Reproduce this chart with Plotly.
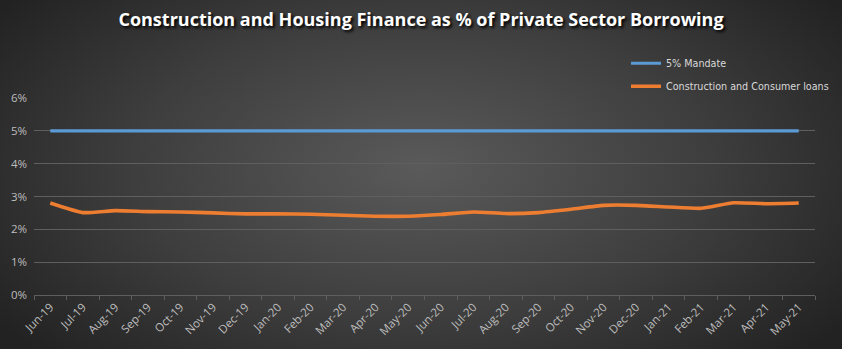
import base64
import plotly.graph_objects as go

# Monthly observations
months = ["Jun-19", "Jul-19", "Aug-19", "Sep-19", "Oct-19", "Nov-19", "Dec-19",
          "Jan-20", "Feb-20", "Mar-20", "Apr-20", "May-20", "Jun-20", "Jul-20",
          "Aug-20", "Sep-20", "Oct-20", "Nov-20", "Dec-20", "Jan-21", "Feb-21",
          "Mar-21", "Apr-21", "May-21"]
mandate = [0.05] * len(months)
construction_consumer = [0.0280, 0.0251, 0.0257, 0.0254, 0.0253, 0.0250, 0.0247,
                         0.0247, 0.0246, 0.0243, 0.0240, 0.0240, 0.0245, 0.0253,
                         0.0248, 0.0251, 0.0261, 0.0273, 0.0273, 0.0268, 0.0264,
                         0.0281, 0.0278, 0.0280]
y_ticks = [0, 0.01, 0.02, 0.03, 0.04, 0.05, 0.06]

W, H = 842, 349
L, R, T, B = 34, 27, 98, 54
pw, ph = W - L - R, H - T - B

# Dark radial-gradient backdrop as an inline SVG
svg = f"""<svg xmlns='http://www.w3.org/2000/svg' width='{W}' height='{H}' viewBox='0 0 {W} {H}' preserveAspectRatio='none'>
<defs><radialGradient id='g' cx='50%' cy='48%' r='62%' gradientTransform='translate(0.5,0.48) scale(1,1.25) translate(-0.5,-0.48)'>
<stop offset='0' stop-color='#5a5a5a'/><stop offset='0.55' stop-color='#3e3e3e'/><stop offset='1' stop-color='#222222'/>
</radialGradient></defs><rect width='100%' height='100%' fill='url(#g)'/></svg>"""
bg_src = "data:image/svg+xml;base64," + base64.b64encode(svg.encode()).decode()

fig = go.Figure()
fig.add_trace(go.Scatter(
    x=months, y=mandate, mode="lines", name="5% Mandate", legendgroup="a",
    line=dict(color="#5b9bd5", width=3.2),
))
fig.add_trace(go.Scatter(
    x=months, y=construction_consumer, mode="lines", legendgroup="b",
    name="Construction and Consumer loans",
    line=dict(color="#ed7d31", width=3.6, shape="spline", smoothing=0.5),
))

fig.update_layout(
    width=W, height=H,
    margin=dict(l=L, r=R, t=T, b=B, autoexpand=False),
    paper_bgcolor="#2e2e2e",
    plot_bgcolor="rgba(0,0,0,0)",
    images=[dict(
        source=bg_src, xref="paper", yref="paper",
        x=-L / pw, y=1 + T / ph, sizex=W / pw, sizey=H / ph,
        xanchor="left", yanchor="top", sizing="stretch", layer="below",
    )],
    title=dict(
        text="<b>Construction and Housing Finance as % of Private Sector Borrowing</b>",
        x=0.5, xref="container", xanchor="center", y=1 - 20 / H, yanchor="middle",
        font=dict(family="Open Sans", size=18, color="#ffffff",
                  shadow="2px 2px 3px #000000"),
    ),
    showlegend=True,
    legend=dict(
        x=0.758, y=1.25, xanchor="left", yanchor="top",
        bgcolor="rgba(0,0,0,0)",
        font=dict(family="DejaVu Sans", size=9.6, color="#d9d9d9"),
        itemwidth=30, traceorder="grouped", tracegroupgap=4,
    ),
    xaxis=dict(
        type="category", range=[-0.5, len(months) - 0.5], showgrid=False,
        showline=True, linecolor="#5e5e5e", linewidth=1,
        ticks="outside", tickson="boundaries", ticklen=4, tickcolor="#5e5e5e",
        tickangle=-45,
        tickfont=dict(family="Open Sans", size=11.5, color="#bdbdbd"),
        zeroline=False,
    ),
    yaxis=dict(
        range=[0, 0.06], tickvals=y_ticks, tickformat=".0%",
        showgrid=True, gridcolor="#5f5f5f", gridwidth=1,
        zeroline=False, showline=False,
        tickfont=dict(family="Open Sans", size=11.5, color="#bdbdbd"),
        ticklabelstandoff=6,
    ),
)

fig.write_html("out.html")
